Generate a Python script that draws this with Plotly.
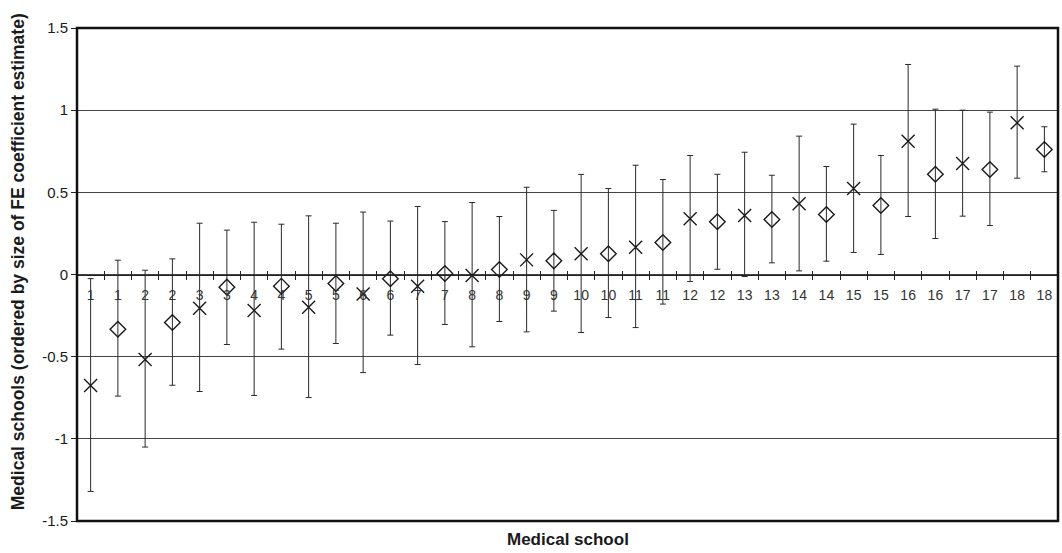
import plotly.graph_objects as go

schools = list(range(1, 19))

est_a = [-0.676, -0.517, -0.205, -0.219, -0.199, -0.118, -0.071, -0.006, 0.089,
         0.126, 0.166, 0.339, 0.359, 0.430, 0.523, 0.811, 0.676, 0.923]
lo_a = [-1.32, -1.05, -0.712, -0.736, -0.749, -0.597, -0.548, -0.440, -0.349,
        -0.353, -0.323, -0.043, -0.012, 0.022, 0.134, 0.353, 0.355, 0.586]
hi_a = [-0.025, 0.026, 0.312, 0.318, 0.357, 0.380, 0.414, 0.438, 0.531,
        0.609, 0.665, 0.724, 0.744, 0.842, 0.915, 1.278, 1.000, 1.268]

est_b = [-0.333, -0.292, -0.077, -0.071, -0.055, -0.026, 0.006, 0.030, 0.083,
         0.126, 0.195, 0.321, 0.335, 0.365, 0.420, 0.610, 0.639, 0.761]
lo_b = [-0.740, -0.674, -0.426, -0.454, -0.420, -0.369, -0.304, -0.286, -0.223,
        -0.262, -0.180, 0.032, 0.071, 0.081, 0.122, 0.219, 0.298, 0.625]
hi_b = [0.087, 0.095, 0.270, 0.306, 0.312, 0.325, 0.322, 0.353, 0.390,
        0.523, 0.578, 0.610, 0.604, 0.657, 0.724, 1.006, 0.988, 0.899]

y_ticks = [-1.5, -1, -0.5, 0, 0.5, 1, 1.5]
y_tick_text = ["-1.5", "-1", "-0.5", "0", "0.5", "1", "1.5"]

n = len(schools)
pos_a = [2 * i for i in range(n)]
pos_b = [2 * i + 1 for i in range(n)]
cat_pos = sorted(pos_a + pos_b)
cat_lab = []
for s in schools:
    cat_lab += [str(s), str(s)]

FONT = "Liberation Sans, Arial, Helvetica, sans-serif"
INK = "#1a1a1a"

fig = go.Figure()
fig.add_trace(go.Scatter(
    x=pos_a, y=est_a, mode="markers",
    marker=dict(symbol="x-thin-open", size=13, color=INK,
                line=dict(color=INK, width=1.4)),
    error_y=dict(type="data", symmetric=False,
                 array=[h - e for h, e in zip(hi_a, est_a)],
                 arrayminus=[e - l for e, l in zip(est_a, lo_a)],
                 color="#2a2a2a", thickness=1, width=3),
    showlegend=False))
fig.add_trace(go.Scatter(
    x=pos_b, y=est_b, mode="markers",
    marker=dict(symbol="diamond-open", size=12, color=INK,
                line=dict(color=INK, width=1.4)),
    error_y=dict(type="data", symmetric=False,
                 array=[h - e for h, e in zip(hi_b, est_b)],
                 arrayminus=[e - l for e, l in zip(est_b, lo_b)],
                 color="#2a2a2a", thickness=1, width=3),
    showlegend=False))

# invisible traces to activate the overlay tick axes
fig.add_trace(go.Scatter(x=[cat_pos[0]], y=[0], xaxis="x2", mode="markers",
                         marker=dict(opacity=0), showlegend=False, hoverinfo="skip"))
fig.add_trace(go.Scatter(x=[cat_pos[0]], y=[0], xaxis="x3", mode="markers",
                         marker=dict(opacity=0), showlegend=False, hoverinfo="skip"))

xr = [-0.5, 2 * n - 0.5]
bounds = [b - 0.5 for b in cat_pos] + [cat_pos[-1] + 0.5]

fig.update_layout(
    width=1062, height=553,
    margin=dict(l=77, r=4, t=28, b=32),
    paper_bgcolor="white", plot_bgcolor="white",
    font=dict(family=FONT, size=13, color=INK),
    xaxis=dict(range=xr, anchor="free", position=0.5,
               tickmode="array", tickvals=cat_pos, ticktext=cat_lab,
               ticks="outside", ticklen=8, tickcolor="rgba(0,0,0,0)",
               showgrid=False, zeroline=False,
               showline=True, linecolor="#222", linewidth=1,
               tickfont=dict(size=14, color="#333")),
    xaxis2=dict(range=xr, overlaying="x", anchor="free", position=0.5,
                tickmode="array", tickvals=bounds, showticklabels=False,
                ticks="outside", ticklen=4, tickcolor="#222", tickwidth=1,
                showgrid=False, zeroline=False, showline=False),
    xaxis3=dict(range=xr, overlaying="x", anchor="free", position=0.5,
                tickmode="array", tickvals=bounds, showticklabels=False,
                ticks="inside", ticklen=4, tickcolor="#222", tickwidth=1,
                showgrid=False, zeroline=False, showline=False),
    yaxis=dict(range=[-1.5, 1.5], tickmode="array", tickvals=y_ticks,
               ticktext=y_tick_text,
               ticks="outside", ticklen=5, tickcolor="#222",
               showgrid=True, gridcolor="#444", gridwidth=1,
               zeroline=False, showline=False,
               tickfont=dict(size=15, color=INK)),
    shapes=[dict(type="rect", xref="paper", yref="paper", x0=0, x1=1, y0=0, y1=1,
                 line=dict(color="#111", width=2.5), fillcolor="rgba(0,0,0,0)")],
    annotations=[
        dict(text="<b>Medical school</b>", xref="paper", yref="paper",
             x=0.5, y=-0.0385, xanchor="center", yanchor="middle", showarrow=False,
             font=dict(size=17, color=INK)),
        dict(text="<b>Medical schools (ordered by size of FE coefficient estimate)</b>",
             xref="paper", yref="paper", x=-0.0601, y=0.525, xanchor="center",
             yanchor="middle", textangle=-90, showarrow=False,
             font=dict(size=17.5, color=INK)),
    ],
)

fig.write_html("out.html", config={"displayModeBar": False},
               post_script="document.body.style.margin='0';document.body.style.overflow='hidden';")
